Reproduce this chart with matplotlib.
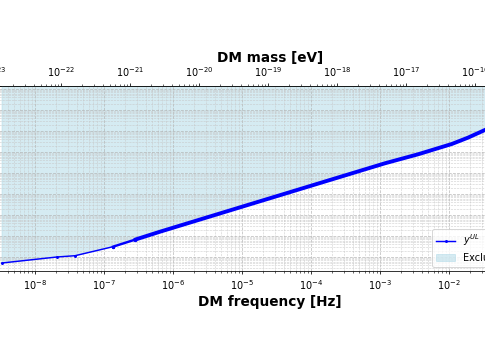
import numpy as np
import matplotlib
matplotlib.use("Agg")
from matplotlib import pyplot as plt
from matplotlib.ticker import LogLocator, NullFormatter

# upper limit curve (frequency in Hz, limit)
freq = [3.33e-9, 2.08e-8, 3.80e-8, 1.35e-7, 2.81e-7, 6.48e-7, 1.31e-5,
        1.88e-4, 1.18e-3, 3.56e-3, 1.10e-2, 1.88e-2, 3.32e-2, 5.48e-2]
y_ul = [5.18e-21, 1.00e-20, 1.15e-20, 3.09e-20, 6.67e-20, 1.60e-19, 3.24e-18,
        4.64e-17, 2.90e-16, 7.77e-16, 2.41e-15, 4.80e-15, 1.12e-14, 2.25e-14]
n_sparse = 4  # first points are widely spaced, the rest get denser

h_eV = 4.135667e-15  # Planck constant in eV s

def f2m(f):
    return f * h_eV

def m2f(m):
    return m / h_eV

fig = plt.figure(figsize=(485 / 70, 360 / 70), dpi=70)
ax = fig.add_axes([-20 / 485, 89 / 360, 580 / 485, 185 / 360])

ax.fill_between(freq, y_ul, 1e-10, color="lightblue", alpha=0.5,
                label="Excluded region")
ax.plot(freq[:n_sparse], y_ul[:n_sparse], color="blue", lw=1.5, marker=".",
        ms=4, label=r"$y^{UL}$")
ax.plot(freq[n_sparse - 1:n_sparse + 1], y_ul[n_sparse - 1:n_sparse + 1],
        color="blue", lw=2.5, marker=".", ms=5)
ax.plot(freq[n_sparse:], y_ul[n_sparse:], color="blue", lw=4.0,
        solid_capstyle="round")

ax.set_xscale("log")
ax.set_yscale("log")
ax.set_xlim(10 ** -8.797, 10 ** -0.391)
ax.set_ylim(10 ** -20.667, 10 ** -11.857)

for axis in (ax.xaxis, ax.yaxis):
    axis.set_major_locator(LogLocator(base=10, numticks=100))
    axis.set_minor_locator(LogLocator(base=10, subs=np.arange(2, 10), numticks=100))
    axis.set_minor_formatter(NullFormatter())

ax.grid(True, which="major", linestyle="--", linewidth=0.8, color="#b0b0b0", alpha=0.8)
ax.grid(True, which="minor", linestyle="--", linewidth=0.6, color="#c4c4c4", alpha=0.8)

ax.set_xlabel("DM frequency [Hz]", fontsize=14, fontweight="bold")

top = ax.secondary_xaxis("top", functions=(f2m, m2f))
top.set_xscale("log")
top.xaxis.set_major_locator(LogLocator(base=10, numticks=100))
top.xaxis.set_minor_locator(LogLocator(base=10, subs=np.arange(2, 10), numticks=100))
top.xaxis.set_minor_formatter(NullFormatter())
top.set_xlabel("DM mass [eV]", fontsize=14, fontweight="bold", labelpad=4)

handles, labels = ax.get_legend_handles_labels()
ax.legend(handles[::-1], labels[::-1], loc="lower left",
          bbox_to_anchor=(432 / 485, 93 / 360), bbox_transform=fig.transFigure,
          borderaxespad=0)

fig.savefig("out.png", dpi=70)
